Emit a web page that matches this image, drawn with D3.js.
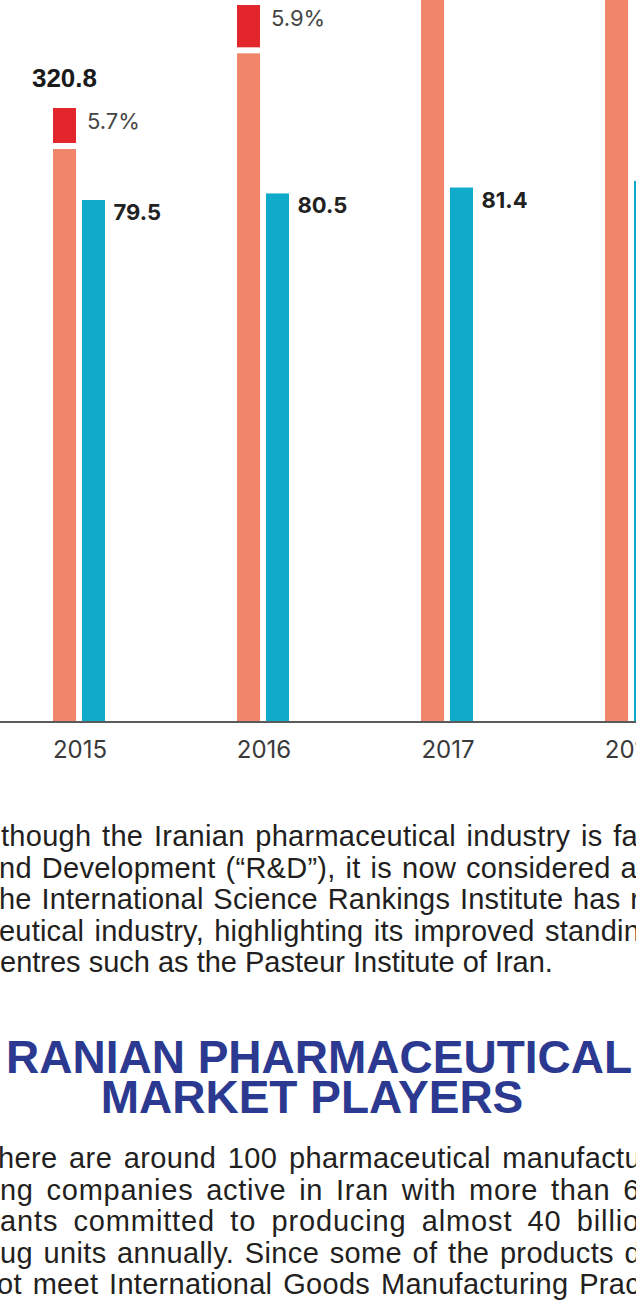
<!DOCTYPE html>
<html>
<head>
<meta charset="utf-8">
<script src="https://cdn.jsdelivr.net/npm/d3@7"></script>
<style>
  html, body { margin: 0; padding: 0; background: #fff; overflow: hidden; }
</style>
</head>
<body>
<svg id="page"></svg>
<script>
// chart data
const years = ['2015', '2016', '2017', '2018'];
const marketTotal = [320.8, 374.6, 428.0, 492.0];   // salmon bars (top label)
const marketShare = [5.7, 5.9, 6.1, 6.4];           // red cap, % of bar
const tealValues = [79.5, 80.5, 81.4, 82.4];

// text of the page
const para1 = [
    'though the Iranian pharmaceutical industry is fa',
    'nd Development (\u201cR&D\u201d), it is now considered a',
    'he International Science Rankings Institute has r',
    'eutical industry, highlighting its improved standin',
    'entres such as the Pasteur Institute of Iran.'
];
const heading = ['RANIAN PHARMACEUTICAL', 'MARKET PLAYERS'];
const para2 = [
    'here are around 100 pharmaceutical manufactu',
    'ng companies active in Iran with more than 6',
    'ants committed to producing almost 40 billio',
    'ug units annually. Since some of the products d',
    'ot meet International Goods Manufacturing Prac'
];

const W = 636, H = 1301;
const base = 722;

const svg = d3.select('#page').attr('width', W).attr('height', H);

const data = years.map((y, i) => ({
    year: y, total: marketTotal[i], share: marketShare[i], teal: tealValues[i]
}));

const x = d3.scalePoint().domain(years).range([79.5, 631.5]);
const inner = d3.scaleBand().domain(['market', 'teal']).range([-26.5, 25.5]).paddingInner(0.207);
const yM = d3.scaleLinear().domain([0, 320.8]).range([base, 108]);
const yT = d3.scaleLinear().domain([0, 79.5]).range([base, 200]);
const bw = inner.bandwidth();
const gap = 6;
const capTop = d => yM(d.total);
const capBottom = d => yM(d.total * (1 - d.share / 100));

const g = svg.append('g');

// salmon part of market bar
g.selectAll('rect.market')
    .data(data)
    .enter()
    .append('rect')
    .attr('class', 'market')
    .attr('x', d => x(d.year) + inner('market'))
    .attr('y', d => capBottom(d) + gap)
    .attr('width', bw)
    .attr('height', d => base - capBottom(d) - gap)
    .attr('fill', '#f1866b');

// red cap
g.selectAll('rect.cap')
    .data(data)
    .enter()
    .append('rect')
    .attr('class', 'cap')
    .attr('x', d => x(d.year) + inner('market'))
    .attr('y', capTop)
    .attr('width', bw)
    .attr('height', d => capBottom(d) - capTop(d))
    .attr('fill', '#e3262b');

// teal bars
g.selectAll('rect.teal')
    .data(data)
    .enter()
    .append('rect')
    .attr('class', 'teal')
    .attr('x', d => x(d.year) + inner('teal'))
    .attr('y', d => yT(d.teal))
    .attr('width', bw)
    .attr('height', d => base - yT(d.teal))
    .attr('fill', '#10aacb');

// axis
const axis = g.append('g')
    .attr('transform', `translate(0,${base})`)
    .call(d3.axisBottom(x).tickSize(0).tickPadding(0));
axis.select('.domain').remove();
axis.append('line')
    .attr('x1', 0).attr('x2', W)
    .attr('stroke', '#5a5a5a').attr('stroke-width', 2);
axis.selectAll('.tick text')
    .attr('y', 36)
    .attr('dy', null)
    .attr('fill', '#3a3a3a')
    .style('font-family', 'Inter, Roboto, sans-serif')
    .style('font-size', '24px');

// labels (only the ones inside the picture)
g.selectAll('text.total')
    .data(data.filter(d => capTop(d) - 21 > 20))
    .enter()
    .append('text')
    .attr('class', 'total')
    .attr('x', d => x(d.year) + inner('market') + bw / 2)
    .attr('y', d => capTop(d) - 21)
    .attr('text-anchor', 'middle')
    .style('font-family', '"Liberation Sans", Arial, sans-serif')
    .style('font-weight', 'bold')
    .style('font-size', '26px')
    .style('fill', '#1a1a1a')
    .text(d => d3.format('.1f')(d.total));

g.selectAll('text.share')
    .data(data.filter(d => capTop(d) + 21 > 0))
    .enter()
    .append('text')
    .attr('class', 'share')
    .attr('x', d => x(d.year) + inner('market') + bw + 11)
    .attr('y', d => capTop(d) + 21)
    .style('font-family', 'Inter, Roboto, sans-serif')
    .style('font-size', '22px')
    .style('fill', '#454545')
    .text(d => d.share + '%');

g.selectAll('text.tealv')
    .data(data.filter(d => x(d.year) + inner('teal') + bw + 8 < W - 20))
    .enter()
    .append('text')
    .attr('class', 'tealv')
    .attr('x', d => x(d.year) + inner('teal') + bw + 8.5)
    .attr('y', d => yT(d.teal) + 20)
    .style('font-family', 'Inter, Roboto, sans-serif')
    .style('font-weight', 'bold')
    .style('font-size', '22px')
    .style('fill', '#222')
    .text(d => d.teal);

// body text; justified lines share the extra room between letters and words
function block(lines, x0s, ends, y0, lh) {
    const t = svg.append('g')
        .style('font-family', '"Liberation Sans", Arial, sans-serif')
        .style('font-size', '29px')
        .style('fill', '#231f20');
    lines.forEach((s, i) => {
        const el = t.append('text')
            .attr('x', x0s[i])
            .attr('y', y0 + i * lh)
            .style('white-space', 'pre')
            .text(s);
        if (!ends[i]) return;
        const extra = ends[i] - x0s[i] - el.node().getComputedTextLength();
        el.style('letter-spacing', (0.5 * extra / s.length) + 'px');
        const rest = ends[i] - x0s[i] - el.node().getComputedTextLength();
        const spaces = (s.match(/ /g) || []).length;
        if (spaces) el.style('word-spacing', (rest / spaces) + 'px');
    });
}

block(para1, [1, -1, -1, -1, 0], [638, 637, 640, 640, null], 846, 31.5);

svg.append('g')
    .selectAll('text')
    .data(heading)
    .enter()
    .append('text')
    .attr('x', (d, i) => i ? 312 : 6)
    .attr('y', (d, i) => 1073 + i * 40)
    .attr('text-anchor', (d, i) => i ? 'middle' : 'start')
    .style('font-family', '"Liberation Sans", Arial, sans-serif')
    .style('font-weight', 'bold')
    .style('font-size', '46px')
    .style('fill', '#2b3990')
    .text(d => d);

block(para2, [-2, 0, 0, 0, -3], [641, 640, 640, 641, 640], 1168, 31.5);
</script>
</body>
</html>
